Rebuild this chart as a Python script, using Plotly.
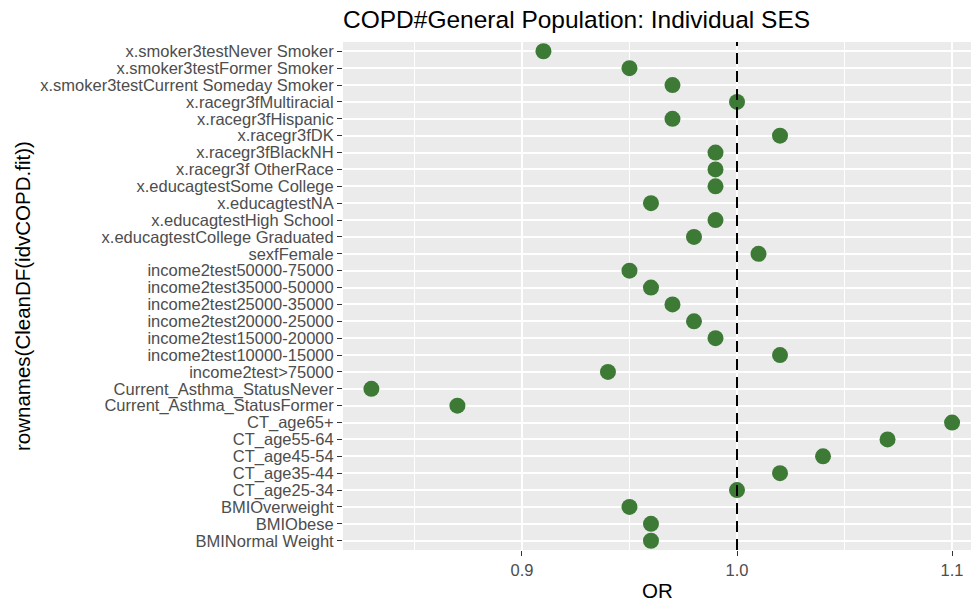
import plotly.graph_objects as go

categories = [
    "x.smoker3testNever Smoker",
    "x.smoker3testFormer Smoker",
    "x.smoker3testCurrent Someday Smoker",
    "x.racegr3fMultiracial",
    "x.racegr3fHispanic",
    "x.racegr3fDK",
    "x.racegr3fBlackNH",
    "x.racegr3f OtherRace",
    "x.educagtestSome College",
    "x.educagtestNA",
    "x.educagtestHigh School",
    "x.educagtestCollege Graduated",
    "sexfFemale",
    "income2test50000-75000",
    "income2test35000-50000",
    "income2test25000-35000",
    "income2test20000-25000",
    "income2test15000-20000",
    "income2test10000-15000",
    "income2test>75000",
    "Current_Asthma_StatusNever",
    "Current_Asthma_StatusFormer",
    "CT_age65+",
    "CT_age55-64",
    "CT_age45-54",
    "CT_age35-44",
    "CT_age25-34",
    "BMIOverweight",
    "BMIObese",
    "BMINormal Weight",
]
or_values = [
    0.91, 0.95, 0.97, 1.00, 0.97, 1.02, 0.99, 0.99, 0.99, 0.96,
    0.99, 0.98, 1.01, 0.95, 0.96, 0.97, 0.98, 0.99, 1.02, 0.94,
    0.83, 0.87, 1.10, 1.07, 1.04, 1.02, 1.00, 0.95, 0.96, 0.96,
]
x_ticks = [0.9, 1.0, 1.1]
x_tick_labels = ["0.9", "1.0", "1.1"]
ref_line = 1.0

FONT = "Liberation Sans, Arial, Helvetica, sans-serif"

fig = go.Figure()
fig.add_trace(go.Scatter(
    x=or_values, y=categories, mode="markers",
    marker=dict(size=16, color="#3d7a36", line=dict(width=0)),
    hoverinfo="x+y", showlegend=False,
))

fig.add_shape(type="line", xref="x", yref="paper", x0=ref_line, x1=ref_line,
              y0=0, y1=1, line=dict(color="black", width=2, dash="11px,7px"),
              layer="above")

n = len(categories)
fig.update_layout(
    width=971, height=602,
    margin=dict(l=343, r=0, t=42, b=52),
    paper_bgcolor="white", plot_bgcolor="#EBEBEB",
    font=dict(family=FONT, size=16.5, color="#4D4D4D"),
    title=dict(text="COPD#General Population: Individual SES",
               font=dict(family=FONT, size=24.5, color="black"),
               x=0, xref="paper", xanchor="left",
               y=1 - 19 / 602, yref="container", yanchor="middle"),
    xaxis=dict(range=[0.8168, 1.1088], tickvals=x_ticks, ticktext=x_tick_labels,
               showgrid=True, gridcolor="white", gridwidth=2,
               minor=dict(dtick=0.05, tick0=0.85, showgrid=True, gridcolor="white", gridwidth=1, ticklen=0),
               ticks="outside", ticklen=5, tickwidth=1.2, tickcolor="#333333",
               zeroline=False, showline=False,
               tickfont=dict(size=16.5, color="#4D4D4D")),
    yaxis=dict(type="category", categoryorder="array", categoryarray=categories,
               tickmode="array", tickvals=categories, ticktext=categories,
               range=[n - 1 + 0.55, -0.55],
               showgrid=True, gridcolor="white", gridwidth=2,
               ticks="outside", ticklen=5, tickwidth=1.2, tickcolor="#333333",
               zeroline=False, showline=False, automargin=False,
               tickfont=dict(size=16.5, color="#4D4D4D")),
    annotations=[
        dict(text="OR", xref="paper", x=0.5, yref="paper", y=0, yshift=-40,
             xanchor="center", yanchor="middle", showarrow=False,
             font=dict(family=FONT, size=20.5, color="black")),
        dict(text="rownames(CleanDF(idvCOPD.fit))", xref="paper", x=0, xshift=-321,
             yref="paper", y=0.5, xanchor="center", yanchor="middle", textangle=-90,
             showarrow=False, font=dict(family=FONT, size=20.5, color="black")),
    ],
)

fig.write_html("out.html")
